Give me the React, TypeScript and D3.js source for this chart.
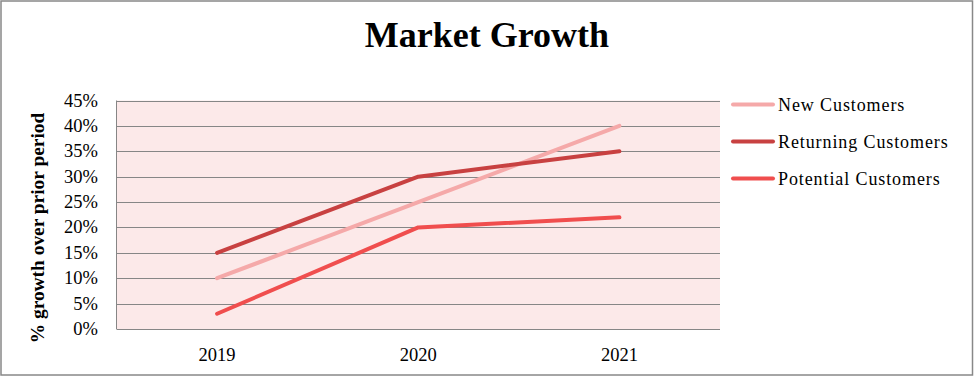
import React from "react";
import * as d3 from "d3";

const categories = ["2019", "2020", "2021"];
const seriesNames = ["New Customers", "Returning Customers", "Potential Customers"];
const newCustomers = [10, 25, 40];
const returningCustomers = [15, 30, 35];
const potentialCustomers = [3, 20, 22];
const yTicks = [0, 5, 10, 15, 20, 25, 30, 35, 40, 45];
const colors = ["#f5a9a9", "#c84141", "#f04e4e"];

export default function App() {
  const W = 976, H = 376;
  const left = 116.5, right = 720, top = 100.5, bottom = 329;
  const x = d3.scaleBand<string>().domain(categories).range([left, right]);
  const y = d3.scaleLinear().domain([0, 45]).range([bottom, top]);
  const series = [newCustomers, returningCustomers, potentialCustomers];
  const line = d3
    .line<number>()
    .x((_, i) => (x(categories[i]) as number) + x.bandwidth() / 2)
    .y((d) => y(d));
  const font = "'Liberation Serif', 'DejaVu Serif', serif";
  return (
    <svg width={W} height={H} style={{ position: "absolute", left: 0, top: 0 }} fontFamily={font}>
      <rect x={0} y={0} width={W} height={H} fill="#fff" />
      <rect x={1} y={1} width={971.5} height={374} fill="#fff" stroke="#888" strokeWidth={1.5} />
      <text x={487} y={47} textAnchor="middle" fontSize={36} fontWeight="bold" fill="#000">
        Market Growth
      </text>
      <rect x={left} y={top} width={right - left} height={bottom - top} fill="#fce9e9" />
      {yTicks.map((t) => (
        <g key={t}>
          <line x1={left} x2={right} y1={Math.round(y(t)) + 0.5} y2={Math.round(y(t)) + 0.5} stroke="#868686" strokeWidth={1} />
          <text x={98} y={y(t) + 6} textAnchor="end" fontSize={18.5} fill="#000">
            {t}%
          </text>
        </g>
      ))}
      <line x1={left} x2={left} y1={top} y2={bottom} stroke="#868686" strokeWidth={1} />
      {categories.map((c) => (
        <text key={c} x={(x(c) as number) + x.bandwidth() / 2} y={361} textAnchor="middle" fontSize={18.5} fill="#000">
          {c}
        </text>
      ))}
      <text
        transform={`translate(44, 228) rotate(-90)`}
        textAnchor="middle"
        fontSize={19.4}
        fontWeight="bold"
        fill="#000"
      >
        % growth over prior period
      </text>
      {series.map((s, i) => (
        <path key={i} d={line(s) as string} fill="none" stroke={colors[i]} strokeWidth={4} strokeLinecap="round" strokeLinejoin="round" />
      ))}
      {seriesNames.map((n, i) => {
        const ly = 104.5 + i * 37;
        return (
          <g key={n}>
            <line x1={733} x2={773} y1={ly} y2={ly} stroke={colors[i]} strokeWidth={4} strokeLinecap="round" />
            <text x={778} y={ly + 6} fontSize={18} letterSpacing={0.9} fill="#000">
              {n}
            </text>
          </g>
        );
      })}
    </svg>
  );
}
